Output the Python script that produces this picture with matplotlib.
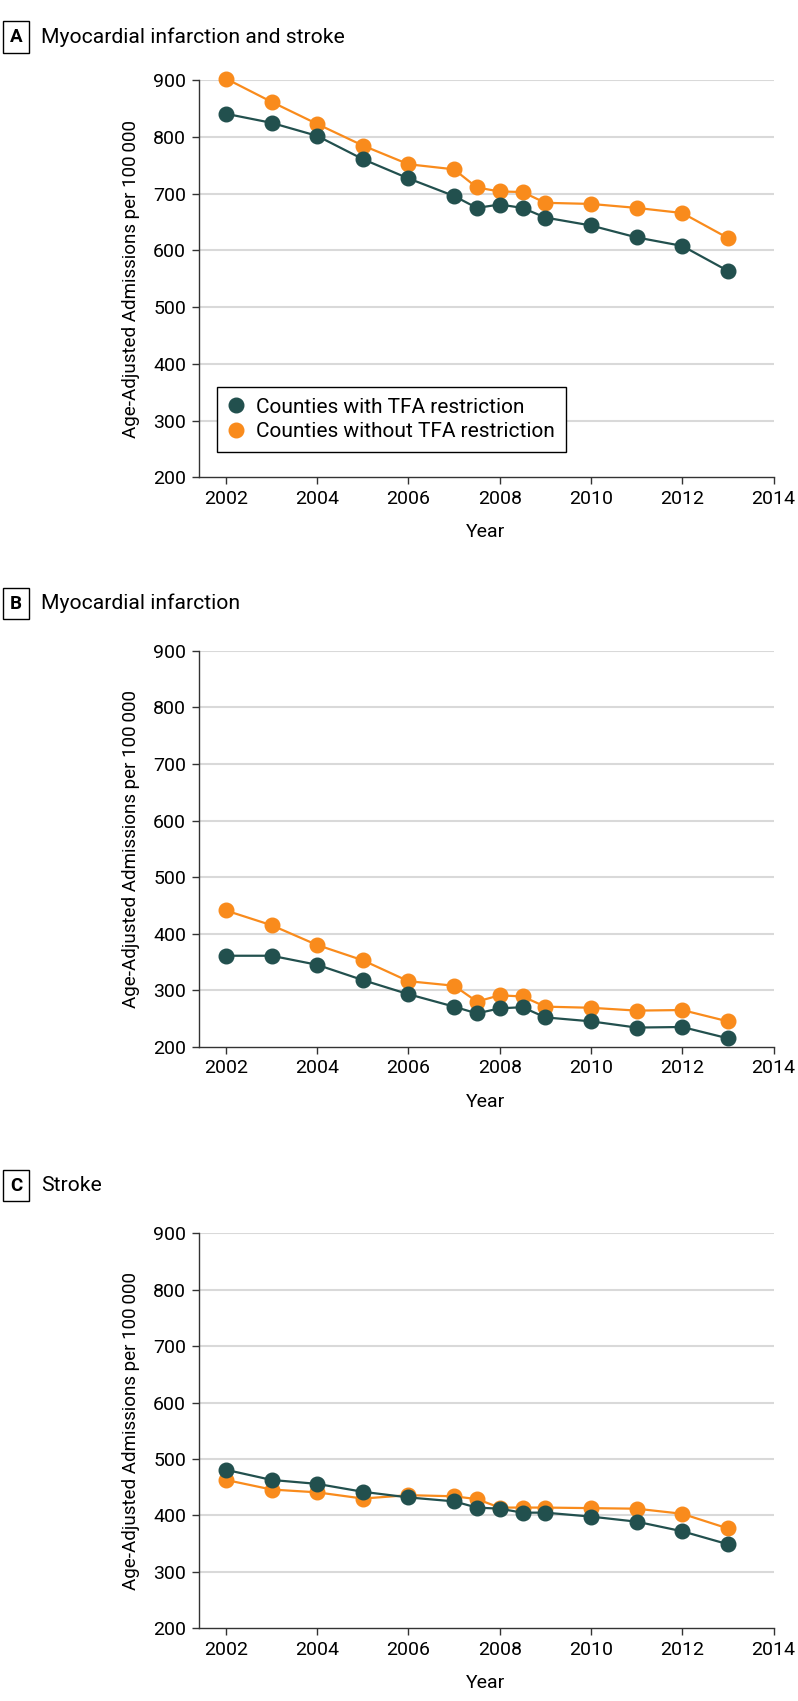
import matplotlib
matplotlib.use("Agg")
import matplotlib.pyplot as plt

plt.rcParams['font.family'] = ['Roboto', 'DejaVu Sans']

years = [2002, 2003, 2004, 2005, 2006, 2007, 2007.5, 2008, 2008.5, 2009, 2010, 2011, 2012, 2013]

a_with = [841, 825, 802, 761, 727, 696, 675, 681, 675, 658, 644, 623, 608, 564]
a_without = [903, 862, 823, 785, 752, 743, 711, 704, 703, 684, 682, 675, 666, 622]

b_with = [361, 361, 345, 318, 293, 271, 259, 268, 270, 252, 245, 234, 235, 215]
b_without = [441, 415, 380, 353, 316, 308, 280, 291, 289, 271, 269, 264, 265, 245]

c_with = [481, 463, 456, 442, 432, 425, 414, 412, 405, 405, 398, 389, 372, 349]
c_without = [463, 446, 441, 430, 436, 434, 429, 414, 414, 414, 413, 412, 403, 377]

panel_letters = ["A", "B", "C"]
panel_titles = ["Myocardial infarction and stroke", "Myocardial infarction", "Stroke"]
series_labels = ["Counties with TFA restriction", "Counties without TFA restriction"]
x_ticks = [2002, 2004, 2006, 2008, 2010, 2012, 2014]
y_ticks = [200, 300, 400, 500, 600, 700, 800, 900]

teal = "#22504e"
orange = "#f98b1c"

fig = plt.figure(figsize=(7.98, 17.01), dpi=100)

W, H = 798, 1701
left_px, right_px = 198.5, 773.5
panels = [(80.3, 477.3), (650.9, 1046.8), (1233.4, 1628.3)]
title_y = [37, 603.7, 1185.7]

data = [(a_with, a_without), (b_with, b_without), (c_with, c_without)]

for i, ((top, bot), (s_with, s_without)) in enumerate(zip(panels, data)):
    ax = fig.add_axes([left_px / W, 1 - bot / H, (right_px - left_px) / W, (bot - top) / H])
    ax.set_xlim(2001.4, 2014)
    ax.set_ylim(200, 900)
    for y in y_ticks[1:]:
        ax.axhline(y, color="#d9d9d9", lw=1.5, zorder=0)
    ax.plot(years, s_with, color=teal, lw=1.6, marker="o", ms=10.5, mec=teal, mfc=teal,
            label=series_labels[0], zorder=3, clip_on=False)
    ax.plot(years, s_without, color=orange, lw=1.6, marker="o", ms=10.5, mec=orange, mfc=orange,
            label=series_labels[1], zorder=2, clip_on=False)
    ax.set_xticks(x_ticks)
    ax.set_yticks(y_ticks)
    ax.tick_params(axis="both", labelsize=14, length=5, width=1, color="#333333", pad=4)
    for s in ["top", "right"]:
        ax.spines[s].set_visible(False)
    for s in ["left", "bottom"]:
        ax.spines[s].set_color("#333333")
        ax.spines[s].set_linewidth(1)
    ax.set_xlabel("Year", fontsize=14, labelpad=11)
    ax.set_ylabel("Age-Adjusted Admissions per 100\u2009000", fontsize=13.5)
    ax.yaxis.set_label_coords(-0.102, 0.5)

    fig.text(16 / W, 1 - title_y[i] / H, panel_letters[i], fontsize=13.5, fontweight="bold",
             ha="center", va="center",
             bbox=dict(boxstyle="square,pad=0.36", fc="white", ec="black", lw=1))
    fig.text(41 / W, 1 - title_y[i] / H, panel_titles[i], fontsize=15.2, ha="left", va="center")

    if i == 0:
        leg = ax.legend(loc="lower left", bbox_to_anchor=(0.032, 0.064), fontsize=15,
                        frameon=True, fancybox=False, edgecolor="black", framealpha=1,
                        handlelength=0.8, handletextpad=0.6, borderpad=0.5, labelspacing=0.28,
                        borderaxespad=0)
        leg.get_frame().set_linewidth(1)
        for line in leg.get_lines():
            line.set_linestyle("none")

fig.savefig("out.png", dpi=100)
